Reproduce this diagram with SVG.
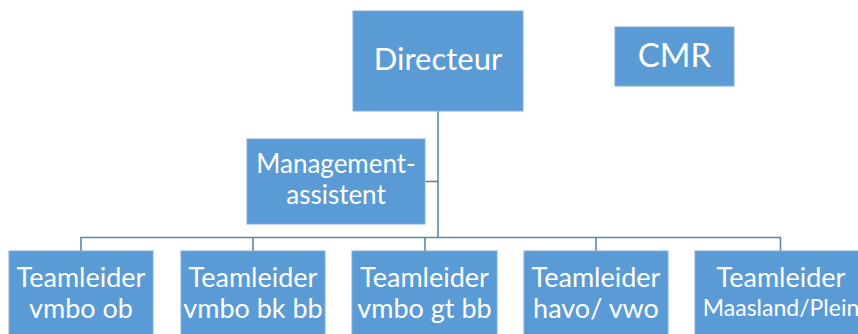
<svg xmlns="http://www.w3.org/2000/svg" width="858" height="334" viewBox="0 0 858 334">
<style>
.box{fill:#5B9BD5;stroke:#7FB0DE;stroke-width:1}
.t{fill:#fff;font-family:Lato,"Open Sans",sans-serif;text-anchor:middle}
.ln{fill:none;stroke:#5E86AD;stroke-width:1.6}
</style>
<rect width="858" height="334" fill="#fff"/>
<g id="connectors">
<path class="ln" d="M438 111V238"/>
<path class="ln" d="M425 181.5H438"/>
<path class="ln" d="M81 251V237.5H780.5V251"/>
<path class="ln" d="M253 237.5V251M425 237.5V251M596 237.5V251"/>
</g>
<g id="directeur"><rect class="box" x="353" y="11" width="170" height="100"/><text class="t" x="438" y="70" font-size="31">Directeur</text></g>
<g id="cmr"><rect class="box" x="615" y="27" width="119" height="59"/><text class="t" x="674.5" y="67" font-size="33">CMR</text></g>
<g id="management"><rect class="box" x="247" y="139" width="178" height="85"/><text class="t" x="336" y="173" font-size="26">Management-</text><text class="t" x="336" y="204" font-size="26">assistent</text></g>
<g id="tl1"><rect class="box" x="9" y="251" width="144" height="90"/><text class="t" x="81" y="287" font-size="27">Teamleider</text><text class="t" x="81" y="318" font-size="27">vmbo ob</text></g>
<g id="tl2"><rect class="box" x="181" y="251" width="144" height="90"/><text class="t" x="253" y="287" font-size="27">Teamleider</text><text class="t" x="253" y="318" font-size="27">vmbo bk bb</text></g>
<g id="tl3"><rect class="box" x="352" y="251" width="145" height="90"/><text class="t" x="424.5" y="287" font-size="27">Teamleider</text><text class="t" x="424.5" y="318" font-size="27">vmbo gt bb</text></g>
<g id="tl4"><rect class="box" x="524" y="251" width="144" height="90"/><text class="t" x="596" y="287" font-size="27">Teamleider</text><text class="t" x="596" y="318" font-size="27">havo/ vwo</text></g>
<g id="tl5"><rect class="box" x="695" y="251" width="172" height="90"/><text class="t" x="781" y="287" font-size="27">Teamleider</text><text class="t" x="781" y="316" font-size="23">Maasland/Plein</text></g>
</svg>
